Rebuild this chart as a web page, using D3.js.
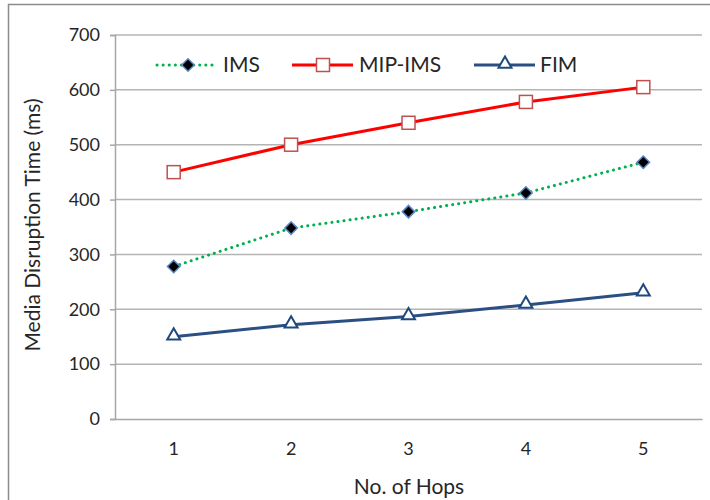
<!DOCTYPE html>
<html>
<head>
<meta charset="utf-8">
<script src="https://cdn.jsdelivr.net/npm/d3@7"></script>
<style>
  html, body { margin: 0; padding: 0; background: #fff; }
  svg { display: block; }
  text { font-family: Lato, "Open Sans", sans-serif; fill: #262626; }
</style>
</head>
<body>
<svg id="chart" width="710" height="500"></svg>
<script>
// Hop counts and media disruption times (ms) per scheme
const hops = ["1", "2", "3", "4", "5"];
const imsValues = [278, 348, 378, 412, 468];
const mipImsValues = [450, 500, 540, 578, 605];
const fimValues = [150, 172, 187, 208, 230];
const yTicks = [0, 100, 200, 300, 400, 500, 600, 700];
const seriesNames = ["IMS", "MIP-IMS", "FIM"];

const svg = d3.select("#chart");
const plot = { left: 115, right: 702, top: 35, bottom: 419 };

// Outer chart frame (runs off the right and bottom edges)
svg.append("rect")
  .attr("x", 8.5).attr("y", 4.5)
  .attr("width", 800).attr("height", 600)
  .attr("fill", "none").attr("stroke", "#8c8c8c").attr("stroke-width", 1.5);

const x = d3.scaleBand().domain(hops).range([plot.left, plot.right]);
const y = d3.scaleLinear().domain([0, 700]).range([plot.bottom, plot.top]);
const cx = d => x(d) + x.bandwidth() / 2;

// Horizontal gridlines
svg.append("g")
  .selectAll("line")
  .data(yTicks.filter(t => t > 0))
  .join("line")
  .attr("x1", plot.left).attr("x2", plot.right)
  .attr("y1", d => y(d)).attr("y2", d => y(d))
  .attr("stroke", "#b4b4b4").attr("stroke-width", 1.5);

// Y axis
const yAxis = svg.append("g")
  .attr("transform", `translate(${plot.left},0)`)
  .call(d3.axisLeft(y).tickValues(yTicks).tickSize(5).tickPadding(10));
yAxis.select(".domain").attr("stroke", "#a6a6a6").attr("stroke-width", 1.5);
yAxis.selectAll(".tick line").attr("stroke", "#a6a6a6").attr("stroke-width", 1.5);
yAxis.selectAll(".tick text").style("font-size", "18px").attr("fill", "#262626")
  .style("font-family", "Lato, 'Open Sans', sans-serif");

// X axis
const xAxis = svg.append("g")
  .attr("transform", `translate(0,${plot.bottom})`)
  .call(d3.axisBottom(x).tickSize(0).tickPadding(23));
xAxis.select(".domain").attr("stroke", "#a6a6a6").attr("stroke-width", 1.5);
xAxis.selectAll(".tick text").style("font-size", "18px").attr("fill", "#262626")
  .style("font-family", "Lato, 'Open Sans', sans-serif");

// Axis titles
svg.append("text")
  .attr("x", 409).attr("y", 494)
  .attr("text-anchor", "middle")
  .style("font-size", "21px")
  .text("No. of Hops");
svg.append("text")
  .attr("transform", "translate(40,225) rotate(-90)")
  .attr("text-anchor", "middle")
  .style("font-size", "21px")
  .text("Media Disruption Time (ms)");

const line = d3.line().x((d, i) => cx(hops[i])).y(d => y(d));

// Marker shapes
const diamond = d3.symbol().type(d3.symbolDiamond2).size(100);
const triangle = d3.symbol().type(d3.symbolTriangle2).size(120);

function drawDiamond(g, px, py) {
  g.append("path").attr("d", diamond())
    .attr("transform", `translate(${px},${py})`)
    .attr("fill", "#000").attr("stroke", "#5b87c5").attr("stroke-width", 1.5);
}
function drawSquare(g, px, py) {
  g.append("rect").attr("x", px - 6.5).attr("y", py - 6.5).attr("width", 13).attr("height", 13)
    .attr("fill", "#fff").attr("stroke", "#c0504d").attr("stroke-width", 1.5);
}
function drawTriangle(g, px, py) {
  g.append("path").attr("d", triangle())
    .attr("transform", `translate(${px},${py - 1})`)
    .attr("fill", "#fff").attr("stroke", "#1f497d").attr("stroke-width", 2);
}

const series = [
  { name: seriesNames[0], values: imsValues, color: "#00b050", dash: "0.1 6", cap: "round", width: 3, marker: drawDiamond },
  { name: seriesNames[1], values: mipImsValues, color: "#ff0000", dash: null, cap: "butt", width: 3, marker: drawSquare },
  { name: seriesNames[2], values: fimValues, color: "#2b4f82", dash: null, cap: "butt", width: 3, marker: drawTriangle }
];

const marks = svg.append("g");
series.forEach(s => {
  marks.append("path")
    .attr("d", line(s.values))
    .attr("fill", "none")
    .attr("stroke", s.color)
    .attr("stroke-width", s.width)
    .attr("stroke-linecap", s.cap)
    .attr("stroke-dasharray", s.dash);
  s.values.forEach((v, i) => s.marker(marks, cx(hops[i]), y(v)));
});

// Legend
const legendItems = [
  { lx: 157, tx: 223 },
  { lx: 292, tx: 359 },
  { lx: 474, tx: 540 }
];
const legend = svg.append("g");
series.forEach((s, i) => {
  const li = legendItems[i];
  const ly = 65;
  legend.append("line")
    .attr("x1", li.lx).attr("x2", li.lx + 61)
    .attr("y1", ly).attr("y2", ly)
    .attr("stroke", s.color).attr("stroke-width", s.width)
    .attr("stroke-linecap", s.cap)
    .attr("stroke-dasharray", s.dash);
  s.marker(legend, li.lx + 31, ly);
  legend.append("text")
    .attr("x", li.tx).attr("y", ly)
    .attr("dy", "0.35em")
    .style("font-size", "21px")
    .text(s.name);
});
</script>
</body>
</html>
